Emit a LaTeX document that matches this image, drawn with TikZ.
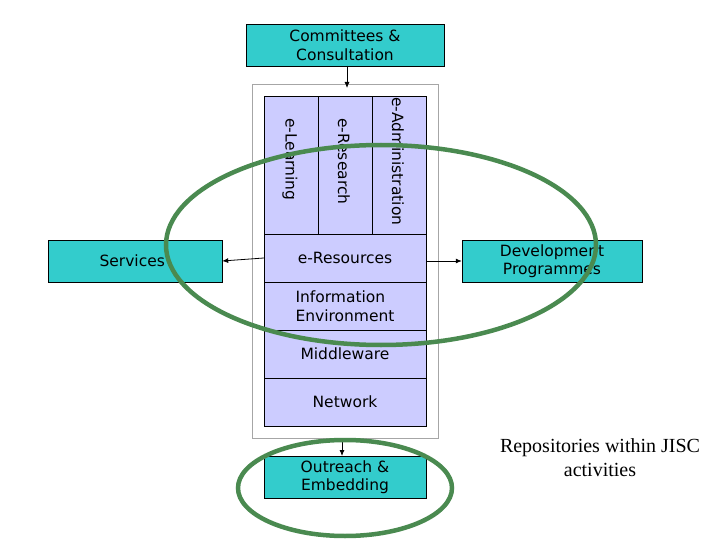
\documentclass[tikz,border=0pt]{standalone}
\usepackage{fontspec}
\setmainfont{DejaVu Sans}
\newfontfamily\serifj{Liberation Serif}
\usetikzlibrary{arrows.meta}
\definecolor{teal1}{HTML}{33CCCC}
\definecolor{lav}{HTML}{CCCCFF}
\definecolor{grn}{HTML}{4A8A50}
\begin{document}
\begin{tikzpicture}[x=1pt,y=-1pt,
  fnt/.style={font=\fontsize{15.5}{18.5}\selectfont},
  box/.style={draw=black,fill=teal1,fnt,align=center},
  lay/.style={draw=black,fill=lav,fnt,align=center},
  arr/.style={-{Latex[length=6pt,width=5pt]},black,line width=0.8pt},
  ring/.style={draw=grn,line width=4.5pt}]
\useasboundingbox (0,0) rectangle (720,540);
\draw[gray!70] (252,84) rectangle (438,438);
\node[box,minimum width=198pt,minimum height=42pt,inner sep=0] (com) at (345,45) {Committees \&\\ Consultation};
\node[lay,minimum width=54pt,minimum height=138pt,inner sep=0] (el) at (291,165) {};
\node[lay,minimum width=54pt,minimum height=138pt,inner sep=0] (er) at (345,165) {};
\node[lay,minimum width=54pt,minimum height=138pt,inner sep=0] (ea) at (399,165) {};
\node[rotate=-90,anchor=west,fnt,inner sep=0] (tl) at (290,118) {e-Learning};
\node[rotate=-90,anchor=west,fnt,inner sep=0] (tr) at (344,118) {e-Research};
\node[rotate=-90,anchor=west,fnt,inner sep=0] (ta) at (398,97) {e-Administration};
\node[lay,minimum width=162pt,minimum height=48pt,inner sep=0] (res) at (345,258) {e-Resources};
\node[lay,minimum width=162pt,minimum height=48pt,inner sep=0,align=left] (ie) at (345,306) {Information\\ Environment};
\node[lay,minimum width=162pt,minimum height=48pt,inner sep=0] (mw) at (345,354) {Middleware};
\node[lay,minimum width=162pt,minimum height=48pt,inner sep=0] (nw) at (345,402) {Network};
\node[box,minimum width=174pt,minimum height=42pt,inner sep=0] (srv) at (135,261) {};
\node[fnt,anchor=west] at (96,261) {Services};
\node[box,minimum width=180pt,minimum height=42pt,inner sep=0] (dev) at (552,261) {Development\\ Programmes};
\node[box,minimum width=162pt,minimum height=42pt,inner sep=0] (out) at (345,477) {Outreach \&\\ Embedding};
\coordinate (ftop) at (347,88);
\coordinate (fbot) at (342,438);
\draw[arr] (347,66) -- (ftop);
\draw[arr] (res.west) -- (srv.east);
\draw[arr] (426,261) -- (dev.west);
\draw[arr] (fbot) -- (342,456);
\draw[ring] (381,245) ellipse (215 and 100);
\draw[ring] (345,488) ellipse (107 and 48);
\node[font=\serifj\fontsize{20}{24}\selectfont,align=center] (rep) at (600,458) {Repositories within JISC\\ activities};
\end{tikzpicture}
\end{document}
